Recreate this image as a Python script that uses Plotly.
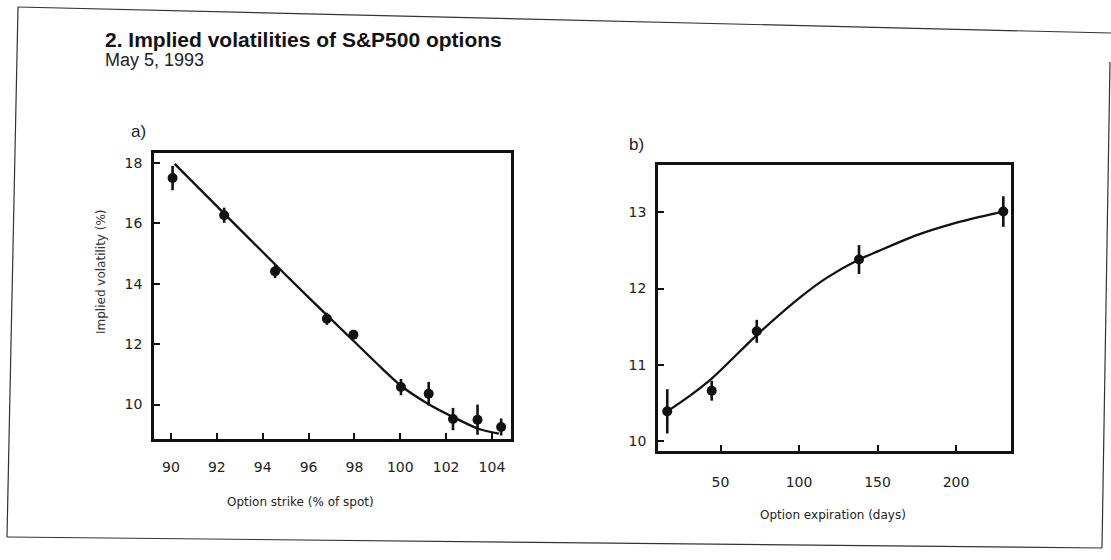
import plotly.graph_objects as go

# ---- data ----
strike = [90.07, 92.32, 94.54, 96.80, 97.96, 100.03, 101.24, 102.30, 103.37, 104.40]
vol_strike = [17.50, 16.27, 14.41, 12.84, 12.31, 10.58, 10.36, 9.52, 9.50, 9.26]
err_strike = [0.40, 0.25, 0.22, 0.20, 0.12, 0.27, 0.39, 0.37, 0.50, 0.28]

fit_strike_x = [90.16, 92.0, 94.0, 96.0, 98.0, 99.2, 100.0, 101.2, 102.3, 103.4, 104.3]
fit_strike_y = [17.97, 16.57, 15.05, 13.55, 12.08, 11.20, 10.64, 10.03, 9.59, 9.20, 9.04]

days = [16.1, 44.4, 73.1, 138.2, 230.1]
vol_days = [10.39, 10.66, 11.44, 12.38, 13.01]
err_days = [0.29, 0.13, 0.15, 0.19, 0.20]

fit_days_x = [16.1, 29.5, 44.4, 73.1, 101.7, 117.6, 138.2, 150.5, 175.0, 199.8, 215.0, 230.1]
fit_days_y = [10.39, 10.58, 10.82, 11.39, 11.90, 12.14, 12.38, 12.49, 12.70, 12.86, 12.94, 13.01]

strike_ticks = [90, 92, 94, 96, 98, 100, 102, 104]
vol_ticks_a = [10, 12, 14, 16, 18]
days_ticks = [50, 100, 150, 200]
vol_ticks_b = [10, 11, 12, 13]

W, H = 1111, 560


def px(x):
    return x / W


def py(y):
    return 1 - y / H


INK = "#111111"
TICKFONT = dict(family="DejaVu Sans", size=14, color="#222222")

fig = go.Figure()

# panel a
fig.add_trace(go.Scatter(x=fit_strike_x, y=fit_strike_y, mode="lines",
                         line=dict(color=INK, width=2.3, shape="spline", smoothing=0.8),
                         xaxis="x", yaxis="y", hoverinfo="skip", showlegend=False))
fig.add_trace(go.Scatter(x=strike, y=vol_strike, mode="markers",
                         marker=dict(color=INK, size=10),
                         error_y=dict(type="data", array=err_strike, color=INK,
                                      thickness=2.6, width=0),
                         xaxis="x", yaxis="y", showlegend=False))

# panel b
fig.add_trace(go.Scatter(x=fit_days_x, y=fit_days_y, mode="lines",
                         line=dict(color=INK, width=2.3, shape="spline", smoothing=0.8),
                         xaxis="x2", yaxis="y2", hoverinfo="skip", showlegend=False))
fig.add_trace(go.Scatter(x=days, y=vol_days, mode="markers",
                         marker=dict(color=INK, size=10),
                         error_y=dict(type="data", array=err_days, color=INK,
                                      thickness=2.6, width=0),
                         xaxis="x2", yaxis="y2", showlegend=False))

axis_common = dict(showline=True, linewidth=2.6, linecolor=INK, mirror=True,
                   ticks="inside", ticklen=6, tickwidth=2.4, tickcolor=INK,
                   showgrid=False, zeroline=False, tickfont=TICKFONT)

fig.update_layout(
    width=W, height=H,
    margin=dict(l=0, r=0, t=0, b=0),
    paper_bgcolor="white", plot_bgcolor="white",
    xaxis=dict(domain=[px(154), px(511)], range=[89.26, 104.83],
               tickvals=strike_ticks, anchor="y", ticklabelstandoff=13, **axis_common),
    yaxis=dict(domain=[py(439), py(153)], range=[8.86, 18.33],
               tickvals=vol_ticks_a, anchor="x", ticklabelstandoff=6, **axis_common),
    xaxis2=dict(domain=[px(658), px(1011)], range=[10.2, 235.0],
                tickvals=days_ticks, anchor="y2", ticklabelstandoff=16, **axis_common),
    yaxis2=dict(domain=[py(451), py(165)], range=[9.87, 13.62],
                tickvals=vol_ticks_b, anchor="x2", ticklabelstandoff=6, **axis_common),
)

ann = [
    dict(x=px(103), y=py(40), text="<b>2. Implied volatilities of S&P500 options</b>",
         xanchor="left", yanchor="middle",
         font=dict(family="Liberation Sans Narrow, Arial Narrow, Liberation Sans", size=21, color="#111")),
    dict(x=px(103), y=py(60), text="May 5, 1993", xanchor="left", yanchor="middle",
         font=dict(family="Liberation Sans", size=18, color="#222")),
    dict(x=px(138), y=py(131), text="a)", xanchor="center", yanchor="middle",
         font=dict(family="Liberation Sans", size=17, color="#222")),
    dict(x=px(636), y=py(145), text="b)", xanchor="center", yanchor="middle",
         font=dict(family="Liberation Sans", size=17, color="#222")),
    dict(x=px(101), y=py(272), text="Implied volatility (%)", textangle=-90,
         xanchor="center", yanchor="middle",
         font=dict(family="DejaVu Sans", size=12, color="#333")),
    dict(x=px(225), y=py(502), text="Option strike (% of spot)", xanchor="left", yanchor="middle",
         font=dict(family="DejaVu Sans", size=12, color="#222")),
    dict(x=px(758), y=py(515), text="Option expiration (days)", xanchor="left", yanchor="middle",
         font=dict(family="DejaVu Sans", size=12, color="#222")),
]
for a in ann:
    a.update(xref="paper", yref="paper", showarrow=False)
fig.update_layout(annotations=ann)

frame = [
    ((18, 7), (1111, 33)),
    ((18, 7), (7, 537)),
    ((7, 537), (1102, 548)),
    ((1110, 62), (1102, 548)),
]
shapes = []
for (x0, y0), (x1, y1) in frame:
    shapes.append(dict(type="line", xref="paper", yref="paper",
                       x0=px(x0), y0=py(y0), x1=px(x1), y1=py(y1),
                       line=dict(color="#333333", width=1.2)))
fig.update_layout(shapes=shapes)

fig.write_html("out.html")
